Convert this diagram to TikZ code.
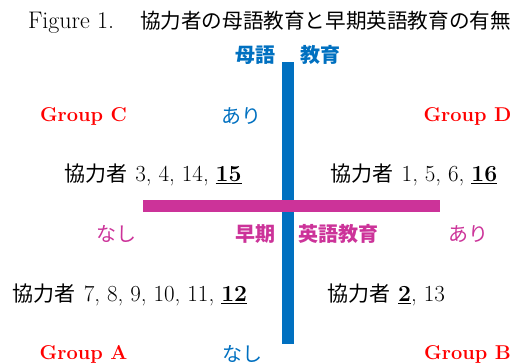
\documentclass[tikz,border=0pt]{standalone}
\usepackage{fontspec}
\newfontfamily\jp{Noto Sans CJK JP}
\newcommand{\jpb}{\fontsize{21}{23}\selectfont\jp}
\definecolor{axisblue}{HTML}{0070C0}
\definecolor{axismag}{HTML}{CC3399}
\definecolor{grpred}{HTML}{FF0000}
\begin{document}
\begin{tikzpicture}[x=1pt,y=-1pt,
  every node/.style={inner sep=0pt,outer sep=0pt,font=\fontsize{20}{22}\selectfont},
  grp/.style={text=grpred,font=\fontsize{20}{22}\selectfont\bfseries},
  bluelab/.style={text=axisblue,font=\fontsize{20}{22}\selectfont\jp},
  bluebold/.style={text=axisblue,font=\fontsize{20}{22}\selectfont\jp\bfseries},
  maglab/.style={text=axismag,font=\fontsize{20}{22}\selectfont\jp},
  magbold/.style={text=axismag,font=\fontsize{20}{22}\selectfont\jp\bfseries},
  plain/.style={text=black,font=\fontsize{23}{25}\selectfont}]
\useasboundingbox (0,0) rectangle (522,364);
% axes
\fill[axisblue] (282,62) rectangle (294,344);
\fill[axismag] (143,199.5) rectangle (440,212);
% title
\node[plain,anchor=west] (title) at (28,22) {\makebox[112pt][l]{\fontsize{24}{26}\selectfont Figure 1.}{\fontsize{20.6}{23}\selectfont\jp 協力者の母語教育と早期英語教育の有無}};
% axis labels
\node[bluebold] (bogo) at (255,55) {母語};
\node[bluebold] (kyoiku) at (320,55) {教育};
\node[bluelab] (ariB) at (241,116) {あり};
\node[bluelab] (nashiB) at (242,354) {なし};
\node[maglab] (nashiM) at (116,234) {なし};
\node[magbold] (soki) at (255,234) {早期};
\node[magbold] (eigo) at (338,234) {英語教育};
\node[maglab] (ariM) at (468,234) {あり};
% groups
\node[grp] (gC) at (83.5,116) {Group C};
\node[grp] (gD) at (467.5,116) {Group D};
\node[grp] (gA) at (83.5,354) {Group A};
\node[grp] (gB) at (467.5,354) {Group B};
% participants
\node[plain] (pC) at (153,175) {{\jpb 協力者}\hspace{0.35em}3, 4, 14, \underline{\textbf{15}}};
\node[plain] (pD) at (414,175) {{\jpb 協力者}\hspace{0.35em}1, 5, 6, \underline{\textbf{16}}};
\node[plain] (pA) at (130,295) {{\jpb 協力者}\hspace{0.35em}7, 8, 9, 10, 11, \underline{\textbf{12}}};
\node[plain] (pB) at (386,295) {{\jpb 協力者}\hspace{0.35em}\underline{\textbf{2}}, 13};
\end{tikzpicture}
\end{document}
